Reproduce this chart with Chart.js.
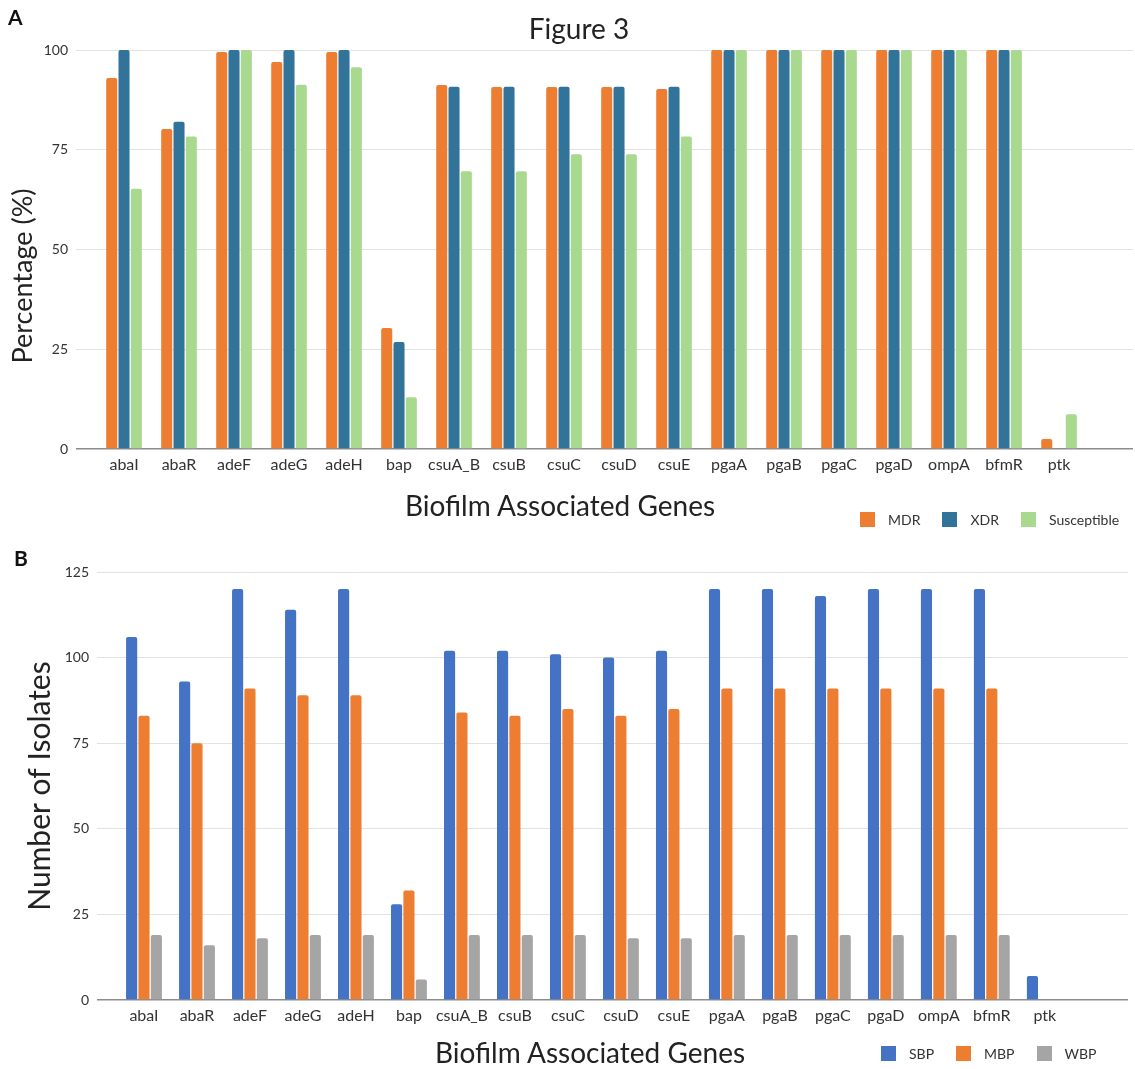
<!DOCTYPE html>
<html>
<head>
<meta charset="utf-8">
<script src="https://cdn.jsdelivr.net/npm/chart.js@4.4.1/dist/chart.umd.min.js"></script>
<style>
  html, body { margin: 0; padding: 0; background: #fff; }
  body { position: relative; width: 1135px; height: 1069px; overflow: hidden; font-family: Lato, "Noto Sans", sans-serif; color: #222; }
  .panel { position: absolute; left: 0; width: 1135px; }
  #wrapA { top: 0; height: 545px; }
  #wrapB { top: 545px; height: 524px; }
  .tag { position: absolute; font-weight: 700; font-size: 21px; line-height: 1; color: #111; }
  .heading { position: absolute; text-align: center; white-space: nowrap; color: #222; }
  .vertical { transform: rotate(-90deg); transform-origin: 50% 50%; }
  .legend { position: absolute; display: flex; align-items: center; font-size: 14px; color: #333; line-height: 15px; }
  .legend .box { display: inline-block; width: 15px; height: 15px; margin-right: 13px; }
  .legend .lbl { margin-right: 22px; }
</style>
</head>
<body>
<div class="panel" id="wrapA"><canvas id="chartA"></canvas></div>
<div class="panel" id="wrapB"><canvas id="chartB"></canvas></div>

<div class="tag" style="left:8px;top:6px;">A</div>
<div class="tag" style="left:14px;top:547px;">B</div>
<div class="heading" style="left:479px;top:12px;width:200px;font-size:28px;line-height:32px;">Figure 3</div>
<div class="heading vertical" style="left:-128px;top:259px;width:300px;font-size:27px;line-height:34px;">Percentage (%)</div>
<div class="heading" style="left:310px;top:489px;width:500px;font-size:28px;line-height:32px;">Biofilm Associated Genes</div>
<div class="heading" style="left:340px;top:1036px;width:500px;font-size:28px;line-height:32px;">Biofilm Associated Genes</div>
<div class="legend" id="legendA" style="left:860px;top:512px;"></div>
<div class="legend" id="legendB" style="left:881px;top:1046px;"></div>

<script>
// Genes on the category axis (shared by both panels)
const genes = ['abaI', 'abaR', 'adeF', 'adeG', 'adeH', 'bap', 'csuA_B', 'csuB', 'csuC',
               'csuD', 'csuE', 'pgaA', 'pgaB', 'pgaC', 'pgaD', 'ompA', 'bfmR', 'ptk'];

// Panel A: percentage of isolates carrying each gene, by resistance profile
const mdr         = [93, 80.2, 99.5, 97, 99.5, 30.3, 91.2, 90.7, 90.7, 90.7, 90.2, 100, 100, 100, 100, 100, 100, 2.5];
const xdr         = [100, 82, 100, 100, 100, 26.8, 90.8, 90.8, 90.8, 90.8, 90.8, 100, 100, 100, 100, 100, 100, 0];
const susceptible = [65.2, 78.3, 100, 91.3, 95.7, 13, 69.6, 69.6, 73.9, 73.9, 78.3, 100, 100, 100, 100, 100, 100, 8.7];

// Panel B: number of isolates carrying each gene, by biofilm strength
const sbp = [106, 93, 120, 114, 120, 28, 102, 102, 101, 100, 102, 120, 120, 118, 120, 120, 120, 7];
const mbp = [83, 75, 91, 89, 89, 32, 84, 83, 85, 83, 85, 91, 91, 91, 91, 91, 91, 0];
const wbp = [19, 16, 18, 19, 19, 6, 19, 19, 19, 18, 18, 19, 19, 19, 19, 19, 19, 0];

// Value-axis tick labels
const percentTicks  = [0, 25, 50, 75, 100];
const isolateTicks  = [0, 25, 50, 75, 100, 125];

const seriesA = [
  { name: 'MDR',         values: mdr,         color: '#ED7D31' },
  { name: 'XDR',         values: xdr,         color: '#32739A' },
  { name: 'Susceptible', values: susceptible, color: '#A9D98E' }
];
const seriesB = [
  { name: 'SBP', values: sbp, color: '#4472C4' },
  { name: 'MBP', values: mbp, color: '#ED7D31' },
  { name: 'WBP', values: wbp, color: '#A5A5A5' }
];

Chart.defaults.font.family = 'Lato, "Noto Sans", sans-serif';
Chart.defaults.color = '#333';

function toDatasets(series, catPct, barPct) {
  return series.map(s => ({
    label: s.name,
    data: s.values.map((v, i) => ({ x: i, y: v })),
    backgroundColor: s.color,
    borderWidth: 0,
    borderRadius: { topLeft: 2, topRight: 2 },
    borderSkipped: 'start',
    categoryPercentage: catPct,
    barPercentage: barPct
  }));
}

function buildChart(canvasId, series, cfg) {
  return new Chart(document.getElementById(canvasId), {
    type: 'bar',
    data: { datasets: toDatasets(series, cfg.catPct, cfg.barPct) },
    options: {
      responsive: true,
      maintainAspectRatio: false,
      animation: false,
      layout: { padding: cfg.padding },
      plugins: { legend: { display: false }, tooltip: { enabled: false }, title: { display: false } },
      scales: {
        x: {
          type: 'linear',
          offset: false,
          min: cfg.xMin,
          max: cfg.xMax,
          afterBuildTicks: scale => { scale.ticks = genes.map((g, i) => ({ value: i })); },
          afterFit: scale => { scale.height = cfg.xHeight; },
          grid: { display: false, drawTicks: false, offset: false },
          border: { display: false },
          ticks: {
            autoSkip: false,
            maxRotation: 0,
            padding: 6,
            color: '#333',
            font: { size: 16 },
            callback: v => genes[v]
          }
        },
        y: {
          min: 0,
          max: cfg.yTicks[cfg.yTicks.length - 1],
          afterBuildTicks: scale => { scale.ticks = cfg.yTicks.map(v => ({ value: v })); },
          afterFit: scale => { scale.width = cfg.yWidth; },
          border: { display: false },
          grid: {
            drawTicks: false,
            color: ctx => (ctx.tick && ctx.tick.value === 0) ? '#8c8c8c' : '#e2e2e2',
            lineWidth: ctx => (ctx.tick && ctx.tick.value === 0) ? 1.5 : 1
          },
          ticks: { padding: 8, color: '#333', font: { size: 14 } },
          title: {
            display: !!cfg.yTitle,
            text: cfg.yTitle || '',
            color: '#222',
            font: { size: 30 },
            padding: { top: cfg.yTitlePad || 0, bottom: 0 }
          }
        }
      }
    }
  });
}

function buildLegend(id, series) {
  const el = document.getElementById(id);
  series.forEach(s => {
    const box = document.createElement('span');
    box.className = 'box';
    box.style.background = s.color;
    const lbl = document.createElement('span');
    lbl.className = 'lbl';
    lbl.textContent = s.name;
    el.appendChild(box);
    el.appendChild(lbl);
  });
}

// Panel A's axis title sits in the page, slightly below the plot's middle
buildChart('chartA', seriesA, {
  catPct: 0.67, barPct: 0.9,
  padding: { top: 50, right: 2, bottom: 0, left: 0 },
  xMin: -0.873, xMax: 18.345, xHeight: 96,
  yTicks: percentTicks, yWidth: 76
});

buildChart('chartB', seriesB, {
  catPct: 0.70, barPct: 0.9,
  padding: { top: 27, right: 7, bottom: 0, left: 0 },
  xMin: -0.887, xMax: 18.57, xHeight: 69,
  yTicks: isolateTicks, yWidth: 97,
  yTitle: 'Number of Isolates', yTitlePad: 22
});

buildLegend('legendA', seriesA);
buildLegend('legendB', seriesB);
</script>
</body>
</html>
